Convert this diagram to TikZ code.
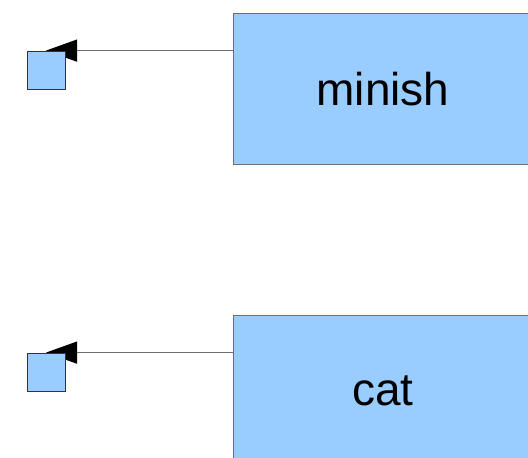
\documentclass[tikz,border=0pt]{standalone}
\usepackage{fontspec}
\setmainfont{Liberation Sans}
\usetikzlibrary{arrows.meta,backgrounds}
\definecolor{boxblue}{HTML}{99CCFF}
\definecolor{edgegrey}{HTML}{6E6E6E}
\begin{document}
\begin{tikzpicture}
  [x=1pt,y=-1pt,
   word/.style={rectangle,draw=edgegrey,fill=boxblue,line width=1pt,
     minimum width=300pt,minimum height=151pt,inner sep=0pt,
     font=\fontsize{46}{55}\selectfont},
   port/.style={rectangle,draw=black!80,fill=boxblue,line width=0.8pt,
     minimum size=38pt,inner sep=0pt},
   link/.style={draw=edgegrey,line width=1.2pt,
     -{Triangle[length=31pt,width=22pt,black]}}]
  \useasboundingbox (0,0) rectangle (528,458);
  \node[word] (w1) at (383,89) {minish};
  \node[word] (w2) at (383,391) {cat};
  \node[port] (p1) at (46,70) {};
  \node[port] (p2) at (46,372) {};

\begin{scope}[on background layer]
\path
    (p1.north -| w1.west) edge [link] (p1.north)
    (p2.north -| w2.west) edge [link] (p2.north)
    ;
\end{scope}

\end{tikzpicture}
\end{document}
